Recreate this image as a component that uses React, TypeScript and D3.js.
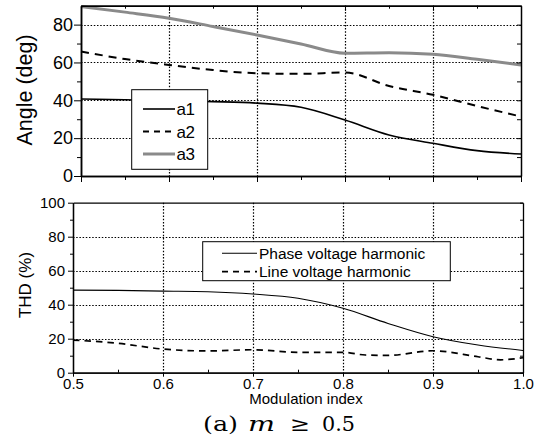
import React, { useEffect, useRef } from 'react';
import * as d3 from 'd3';

// modulation index samples
const mIndex = [0.5, 0.55, 0.6, 0.65, 0.7, 0.75, 0.8, 0.85, 0.9, 0.95, 1.0];

// switching angles (deg)
const a1 = [40.7, 40.3, 39.8, 39.3, 38.5, 36.3, 29.6, 21.7, 17.3, 13.4, 11.6];
const a2 = [65.8, 61.8, 58.7, 56, 54.3, 54, 54.7, 47.6, 42.9, 37, 31.4];
const a3 = [89.6, 86.6, 83.4, 79, 74.5, 69.8, 64.9, 65.2, 64.4, 61.7, 58.7];

// THD (%)
const phaseThd = [48.6, 48.4, 48, 47.6, 46.3, 43.8, 37.9, 29, 21.2, 16.3, 13.1];
const lineM = [0.5, 0.55, 0.6, 0.65, 0.7, 0.75, 0.8, 0.825, 0.85, 0.9, 0.95, 0.975, 1.0];
const lineThd = [19.2, 17.3, 13.9, 12.8, 13.5, 12, 12, 10.4, 10.2, 12.9, 9.4, 7.6, 8.8];

const xTicks = [0.5, 0.6, 0.7, 0.8, 0.9, 1.0];
const xMinor = [0.55, 0.65, 0.75, 0.85, 0.95];
const xGrid = [0.6, 0.7, 0.8, 0.9];
const angleTicks = [0, 20, 40, 60, 80];
const angleMinor = [10, 30, 50, 70];
const angleGrid = [20, 40, 60, 80];
const thdTicks = [0, 20, 40, 60, 80, 100];
const thdMinor = [10, 30, 50, 70, 90];
const thdGrid = [20, 40, 60, 80];

const angleLegend = ['a1', 'a2', 'a3'];
const thdLegend = ['Phase voltage harmonic', 'Line voltage harmonic'];

const App = () => {
    const svgRef = useRef(null);

    useEffect(() => {
        const svg = d3.select(svgRef.current);
        svg.selectAll('*').remove();

        const font = 'Liberation Sans, Arial, sans-serif';
        svg.style('font-family', font);

        const styleAxis = (g, w) => {
            g.selectAll('path').attr('stroke', '#000').attr('stroke-width', w);
            g.selectAll('line').attr('stroke', '#000').attr('stroke-width', 1);
            g.selectAll('text').attr('fill', '#000').style('font-family', font);
        };

        // dotted grid drawn as paths
        const grid = (x, y, xs, ys, x0, x1, y0, y1) => {
            const g = svg.append('g')
                .attr('fill', 'none')
                .attr('stroke', '#000')
                .attr('stroke-width', 1.2)
                .attr('stroke-dasharray', '1.5,1.7');
            xs.forEach((d) => {
                const px = Math.round(x(d)) + 0.5;
                g.append('path').attr('d', `M${px},${y0}V${y1}`);
            });
            ys.forEach((d) => {
                const py = Math.round(y(d)) + 0.5;
                g.append('path').attr('d', `M${x0},${py}H${x1}`);
            });
        };

        // ---------- top: angles ----------
        const xT = d3.scaleLinear().domain([0.5, 1.0]).range([81, 521]);
        const yT = d3.scaleLinear().domain([0, 90]).range([176, 5.7]);

        grid(xT, yT, xGrid, angleGrid, 81, 521, 5.7, 176);

        const lineT = (vals) => d3.line()
            .x((d, i) => xT(mIndex[i]))
            .y((d) => yT(d))
            .curve(d3.curveMonotoneX)(vals);

        svg.append('path').attr('d', lineT(a3)).attr('fill', 'none')
            .attr('stroke', '#8a8a8a').attr('stroke-width', 3);
        svg.append('path').attr('d', lineT(a2)).attr('fill', 'none')
            .attr('stroke', '#000').attr('stroke-width', 2).attr('stroke-dasharray', '8,6');
        svg.append('path').attr('d', lineT(a1)).attr('fill', 'none')
            .attr('stroke', '#000').attr('stroke-width', 1.6);

        // axes
        const gL = svg.append('g').attr('transform', 'translate(81,0)')
            .call(d3.axisLeft(yT).tickValues(angleTicks).tickSize(7).tickSizeOuter(0).tickPadding(1));
        gL.selectAll('text').style('font-size', '18px');
        styleAxis(gL, 1.5);
        styleAxis(svg.append('g').attr('transform', 'translate(81,0)')
            .call(d3.axisLeft(yT).tickValues(angleMinor).tickSize(4).tickFormat(() => '').tickSizeOuter(0)), 1.5);

        styleAxis(svg.append('g').attr('transform', 'translate(0,176)')
            .call(d3.axisBottom(xT).tickValues(xTicks).tickSize(6).tickFormat(() => '').tickSizeOuter(0)), 1.5);
        styleAxis(svg.append('g').attr('transform', 'translate(0,176)')
            .call(d3.axisBottom(xT).tickValues(xMinor).tickSize(4).tickFormat(() => '').tickSizeOuter(0)), 1.5);

        styleAxis(svg.append('g').attr('transform', 'translate(0,5.7)')
            .call(d3.axisTop(xT).tickValues(xTicks).tickSize(-5).tickFormat(() => '').tickSizeOuter(0)), 1.5);
        styleAxis(svg.append('g').attr('transform', 'translate(0,5.7)')
            .call(d3.axisTop(xT).tickValues(xMinor).tickSize(-3).tickFormat(() => '').tickSizeOuter(0)), 1.5);

        styleAxis(svg.append('g').attr('transform', 'translate(521,0)')
            .call(d3.axisRight(yT).tickValues(angleMinor.concat(angleTicks)).tickSize(-4).tickFormat(() => '').tickSizeOuter(0)), 1.5);

        svg.append('text')
            .attr('transform', 'translate(32,90) rotate(-90)')
            .attr('text-anchor', 'middle')
            .style('font-size', '21.5px')
            .text('Angle (deg)');

        // legend (top)
        const lgT = svg.append('g');
        lgT.append('rect').attr('x', 131.7).attr('y', 89.7).attr('width', 76).attr('height', 79.6)
            .attr('fill', '#fff').attr('stroke', '#000').attr('stroke-width', 1);
        const legStyles = [
            { stroke: '#000', w: 1.6, dash: null },
            { stroke: '#000', w: 2, dash: '6,5' },
            { stroke: '#8a8a8a', w: 3, dash: null },
        ];
        angleLegend.forEach((name, i) => {
            const y = 109 + i * 22.5;
            lgT.append('line').attr('x1', 143).attr('x2', 175).attr('y1', y).attr('y2', y)
                .attr('stroke', legStyles[i].stroke).attr('stroke-width', legStyles[i].w)
                .attr('stroke-dasharray', legStyles[i].dash);
            lgT.append('text').attr('x', 176.5).attr('y', y + 6).style('font-size', '17px')
                .attr('letter-spacing', '-0.5').text(name);
        });

        // ---------- bottom: THD ----------
        const xB = d3.scaleLinear().domain([0.5, 1.0]).range([73, 523]);
        const yB = d3.scaleLinear().domain([0, 100]).range([372.7, 202.7]);

        grid(xB, yB, xGrid, thdGrid, 73, 523, 202.7, 372.7);

        const phasePath = d3.line()
            .x((d, i) => xB(mIndex[i]))
            .y((d) => yB(d))
            .curve(d3.curveMonotoneX)(phaseThd);
        const linePath = d3.line()
            .x((d, i) => xB(lineM[i]))
            .y((d) => yB(d))
            .curve(d3.curveMonotoneX)(lineThd);

        svg.append('path').attr('d', linePath).attr('fill', 'none')
            .attr('stroke', '#000').attr('stroke-width', 1.7).attr('stroke-dasharray', '6.5,5');
        svg.append('path').attr('d', phasePath).attr('fill', 'none')
            .attr('stroke', '#000').attr('stroke-width', 1.1);

        const bL = svg.append('g').attr('transform', 'translate(73,0)')
            .call(d3.axisLeft(yB).tickValues(thdTicks).tickSize(5).tickSizeOuter(0).tickPadding(3));
        bL.selectAll('text').style('font-size', '15px');
        styleAxis(bL, 1.3);
        styleAxis(svg.append('g').attr('transform', 'translate(73,0)')
            .call(d3.axisLeft(yB).tickValues(thdMinor).tickSize(3).tickFormat(() => '').tickSizeOuter(0)), 1.3);

        const bB = svg.append('g').attr('transform', 'translate(0,372.7)')
            .call(d3.axisBottom(xB).tickValues(xTicks).tickSize(4).tickSizeOuter(0).tickPadding(2)
                .tickFormat(d3.format('.1f')));
        bB.selectAll('text').style('font-size', '15px');
        styleAxis(bB, 1.3);
        styleAxis(svg.append('g').attr('transform', 'translate(0,372.7)')
            .call(d3.axisBottom(xB).tickValues(xMinor).tickSize(-3).tickFormat(() => '').tickSizeOuter(0)), 1.3);

        styleAxis(svg.append('g').attr('transform', 'translate(0,202.7)')
            .call(d3.axisTop(xB).tickValues([]).tickSizeOuter(0)), 1.3);
        styleAxis(svg.append('g').attr('transform', 'translate(523,0)')
            .call(d3.axisRight(yB).tickValues(thdMinor.concat(thdTicks)).tickSize(-3).tickFormat(() => '').tickSizeOuter(0)), 1.3);

        svg.append('text')
            .attr('transform', 'translate(31,285) rotate(-90)')
            .attr('text-anchor', 'middle')
            .style('font-size', '17px')
            .text('THD (%)');

        svg.append('text')
            .attr('x', 306).attr('y', 404)
            .attr('text-anchor', 'middle')
            .style('font-size', '15px')
            .text('Modulation index');

        // legend (bottom)
        const lgB = svg.append('g');
        lgB.append('rect').attr('x', 202.7).attr('y', 241.7).attr('width', 247.6).attr('height', 39)
            .attr('fill', '#fff').attr('stroke', '#000').attr('stroke-width', 1);
        thdLegend.forEach((name, i) => {
            const y = 253.3 + i * 18.4;
            lgB.append('line').attr('x1', 222).attr('x2', 257).attr('y1', y).attr('y2', y)
                .attr('stroke', '#000').attr('stroke-width', i === 0 ? 1.1 : 1.7)
                .attr('stroke-dasharray', i === 0 ? null : '6,5');
            lgB.append('text').attr('x', 259).attr('y', y + 5.5).style('font-size', '15.5px').text(name);
        });

        // caption
        const cap = svg.append('g').style('font-family', 'DejaVu Serif, Liberation Serif, serif')
            .style('font-size', '20px');
        const capParts = [
            { t: '(a)', x: 203, w: 35, italic: false },
            { t: 'm', x: 248, w: 27, italic: true },
            { t: '≥', x: 290, w: 20, italic: false },
            { t: '0.5', x: 322, w: 33, italic: false },
        ];
        capParts.forEach((p) => {
            cap.append('text').attr('x', p.x).attr('y', 431)
                .attr('textLength', p.w).attr('lengthAdjust', 'spacingAndGlyphs')
                .style('font-style', p.italic ? 'italic' : 'normal')
                .text(p.t);
        });
    }, []);

    return (
        <svg
            ref={svgRef}
            width={544}
            height={441}
            style={{ position: 'absolute', left: 0, top: 0, background: '#fff' }}
        />
    );
};

export default App;
